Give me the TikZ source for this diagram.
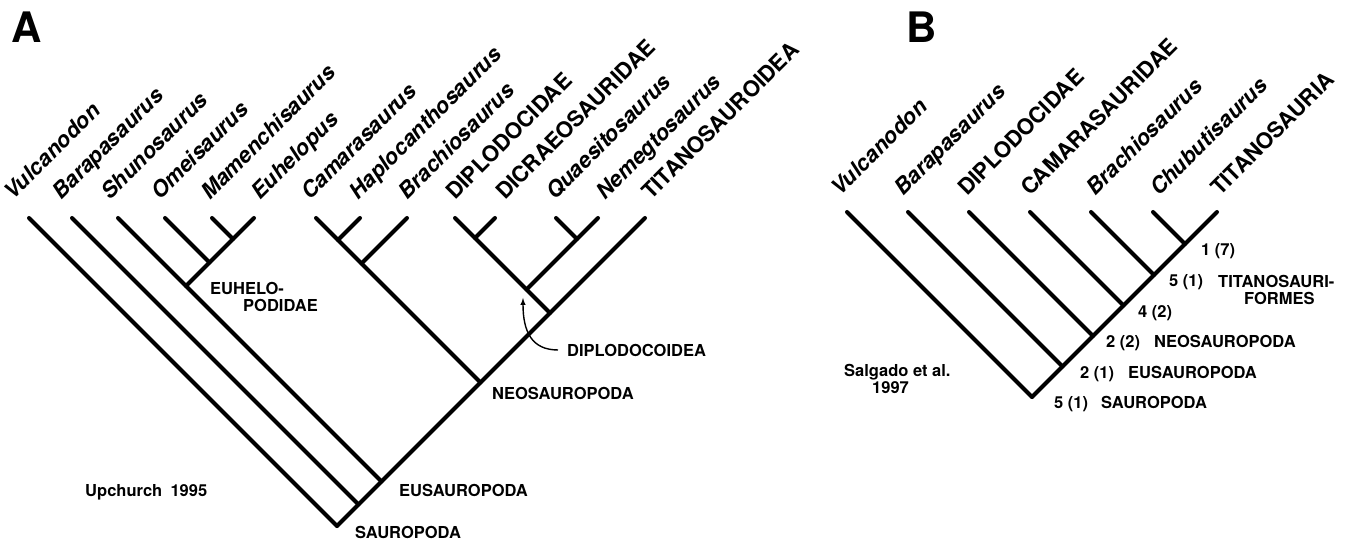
\documentclass[tikz,border=0pt]{standalone}
\usepackage{fontspec}
\setmainfont{TeX Gyre Heros}
\usetikzlibrary{arrows,positioning,calc}
\tikzset{
    branch/.style={line width=4pt, line cap=round, black},
    pointer/.style={->, >=latex, line width=1.4pt, black},
    taxon/.style={font=\fontsize{22}{22}\selectfont\bfseries, rotate=45, anchor=base west, inner sep=0pt},
    clade/.style={font=\fontsize{16.5}{17}\selectfont\bfseries, anchor=base west, inner sep=0pt},
    clade block/.style={clade, anchor=north west, align=left},
    panel label/.style={font=\fontsize{42}{42}\selectfont\bfseries, anchor=north west, inner sep=0pt}
}

\begin{document}
\begin{tikzpicture}[x=1pt,y=-1pt]
\useasboundingbox (0,0) rectangle (1345,540);

%% A -- Upchurch 1995
\node[panel label] (panelA) at (11,12) {A};
\foreach \tip/\x/\lx/\name in {vulA/29/13/\textit{Vulcanodon}, barA/72/61/\textit{Barapasaurus},
    shuA/118/110/\textit{Shunosaurus}, omeA/165/160/\textit{Omeisaurus}, mamA/212/210/\textit{Mamenchisaurus},
    euhA/254/260/\textit{Euhelopus}, camA/316/310/\textit{Camarasaurus}, hapA/360/358/\textit{Haplocanthosaurus},
    braA/407/407/\textit{Brachiosaurus}, dipA/455/455/DIPLODOCIDAE, dicA/495/505/DICRAEOSAURIDAE,
    quaA/556/555/\textit{Quaesitosaurus}, nemA/598/605/\textit{Nemegtosaurus}, titA/645/651/TITANOSAUROIDEA}{
  \coordinate (\tip) at (\x,218);
  \node[taxon] (l\tip) at (\lx,201) {\name};
}
% internal nodes
\coordinate (mamEuhA) at (233,239);
\coordinate (omeEuhA) at (209.5,262.5);
\coordinate (euhelopodidae) at (186,286);
\coordinate (camHapA) at (338,240);
\coordinate (camBraA) at (361.5,263.5);
\coordinate (dipDicA) at (475,238);
\coordinate (quaNemA) at (577,239);
\coordinate (diplodocoidea) at (526.5,289.5);
\coordinate (dipTitA) at (550,313);
\coordinate (neosauropodaA) at (480.5,382.5);
\coordinate (eusauropodaA) at (381.5,481.5);
\coordinate (barNodeA) at (358.5,504.5);
\coordinate (sauropodaA) at (337,526);
\foreach \a/\b in {vulA/sauropodaA, titA/sauropodaA, barA/barNodeA, shuA/eusauropodaA,
    euhA/euhelopodidae, omeA/omeEuhA, mamA/mamEuhA, camA/neosauropodaA, hapA/camHapA,
    braA/camBraA, dipA/dipTitA, dicA/dipDicA, nemA/diplodocoidea, quaA/quaNemA}
  \draw[branch] (\a) -- (\b);

\node[clade block] (lEuhelopodidae) at (210,282) {EUHELO-\\\hspace*{33pt}PODIDAE};
\node[clade] (lDiplodocoidea) at (567,356) {DIPLODOCOIDEA};
\node[clade] (lNeoA) at (492,399) {NEOSAUROPODA};
\node[clade] (lEuA) at (399,496) {EUSAUROPODA};
\node[clade] (lSauA) at (355,538) {SAUROPODA};
\node[clade] (upchurch) at (85,496) {Upchurch\enspace 1995};
\coordinate (dipArrow) at (523,298);
\draw[pointer] ([xshift=-9pt]lDiplodocoidea.west) .. controls (532,350) and (523,332) .. (dipArrow);

%% B -- Salgado et al. 1997
\node[panel label] (panelB) at (906,12) {B};
\foreach \tip/\x/\lx/\name in {vulB/847/840/\textit{Vulcanodon}, barB/908/903/\textit{Barapasaurus},
    dipB/969/967/DIPLODOCIDAE, camB/1030/1030/CAMARASAURIDAE, braB/1091/1095/\textit{Brachiosaurus},
    chuB/1153/1159/\textit{Chubutisaurus}, titB/1217/1220/TITANOSAURIA}{
  \coordinate (\tip) at (\x,212);
  \node[taxon] (l\tip) at (\lx,197) {\name};
}
\coordinate (chuTitB) at (1185,244);
\coordinate (braNodeB) at (1154,275);
\coordinate (camNodeB) at (1123.5,305.5);
\coordinate (neosauropodaB) at (1093,336);
\coordinate (eusauropodaB) at (1062.5,366.5);
\coordinate (sauropodaB) at (1032,397);
\foreach \a/\b in {vulB/sauropodaB, titB/sauropodaB, barB/eusauropodaB, dipB/neosauropodaB,
    camB/camNodeB, braB/braNodeB, chuB/chuTitB}
  \draw[branch] (\a) -- (\b);

\node[clade] (s1) at (1201,256) {1 (7)};
\node[clade] (s2) at (1169,287) {5 (1)};
\node[clade block] (lTitanosauriformes) at (1218,275) {TITANOSAURI-\\\hspace*{26pt}FORMES};
\node[clade] (s3) at (1138,318) {4 (2)};
\node[clade] (s4) at (1106,348) {2 (2)};
\node[clade] (lNeoB) at (1154,348) {NEOSAUROPODA};
\node[clade] (s5) at (1080,378) {2 (1)};
\node[clade] (lEuB) at (1128,378) {EUSAUROPODA};
\node[clade] (s6) at (1054,408) {5 (1)};
\node[clade] (lSauB) at (1101,408) {SAUROPODA};
\node[clade block] (salgado) at (844,364) {Salgado et al.\\\hspace*{28pt}1997};
\end{tikzpicture}
\end{document}
